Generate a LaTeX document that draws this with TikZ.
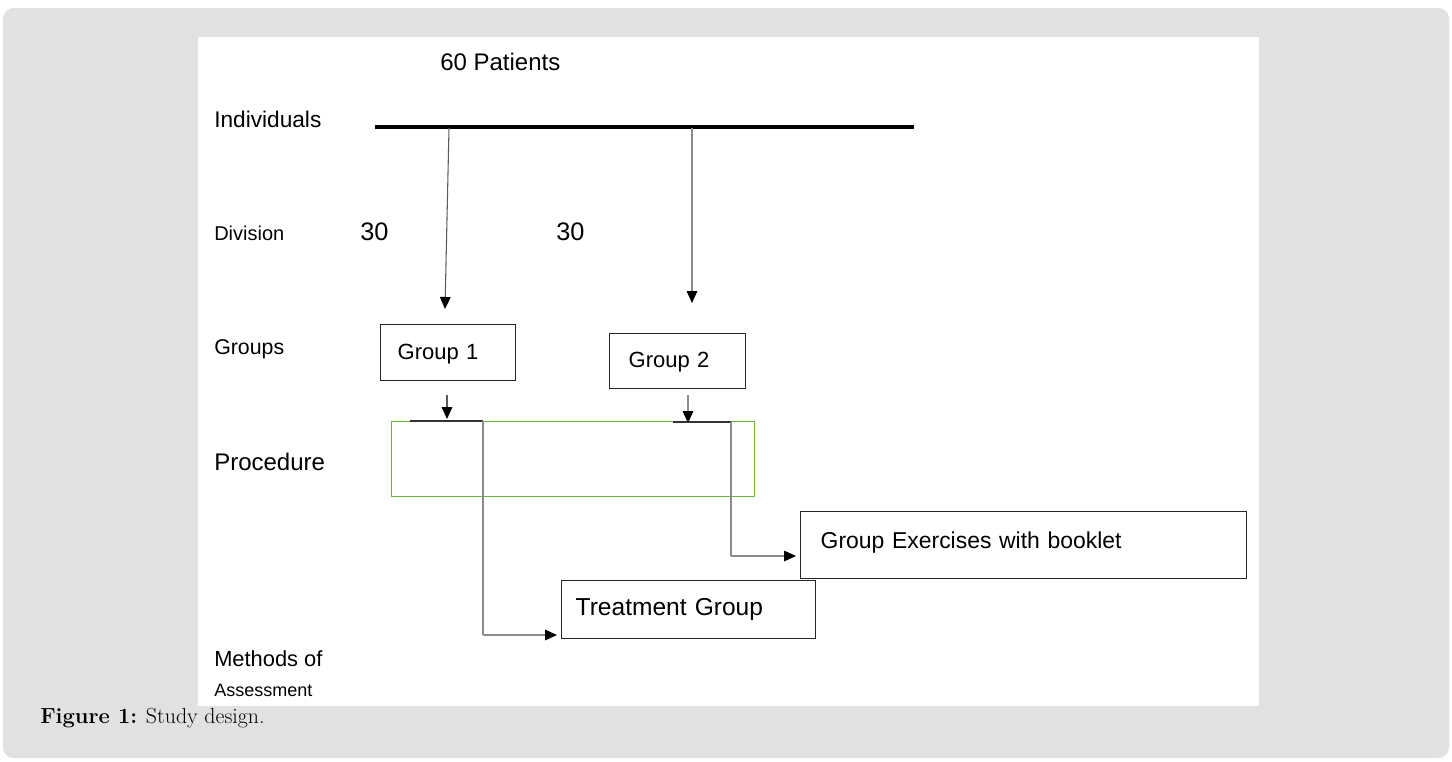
\documentclass[tikz,border=0pt]{standalone}
\usepackage{fontspec}
\newfontfamily\arialf{Liberation Sans}
\usetikzlibrary{arrows.meta}
\definecolor{panelgray}{HTML}{E1E1E1}
\definecolor{procgreen}{HTML}{6DB33F}
\definecolor{lgray}{HTML}{8C8C8C}
\definecolor{dgray}{HTML}{5A5A5A}
\newcommand{\fs}[1]{\fontsize{#1}{#1}\selectfont}
\begin{document}
\begin{tikzpicture}[x=0.75pt,y=-0.75pt,
  lbl/.style={anchor=west,inner sep=0pt,font=\arialf},
  boxnode/.style={draw=black!85,line width=1.1pt,anchor=north west,align=left,font=\arialf,inner ysep=0pt},
  tip/.style={-{Triangle[length=9pt,width=8pt,black]}},
  conn/.style={line width=0.8pt}]
\useasboundingbox (0,0) rectangle (1452,761);
\fill[panelgray,rounded corners=8pt] (3,8) rectangle (1449,758);
\fill[white] (198,37) rectangle (1259,706);

% labels
\node[lbl,font=\arialf\fs{18}] (pat) at (440,62) {60 Patients};
\node[lbl,font=\arialf\fs{17}] (ind) at (214,119) {Individuals};
\node[lbl,font=\arialf\fs{15}] (div) at (214,233) {Division};
\node[lbl,font=\arialf\fs{19}] (n1) at (360,232) {30};
\node[lbl,font=\arialf\fs{19}] (n2) at (556,232) {30};
\node[lbl,font=\arialf\fs{16}] (grp) at (214,349) {Groups};
\node[lbl,font=\arialf\fs{18}] (proclbl) at (214,462) {Procedure};
\node[lbl,font=\arialf\fs{16.4}] (meth) at (214,659) {Methods of};
\node[lbl,font=\arialf\fs{13.5}] (ass) at (214,690) {Assessment};

% thick line
\coordinate (lineL) at (375,127);
\coordinate (lineR) at (914,127);
\draw[line width=2.3pt] (lineL) -- (lineR);

% group boxes
\node[boxnode,font=\arialf\fs{16.5},minimum height=42pt,inner xsep=12.75pt,text width=75.75pt,text height=12pt,text depth=2pt] (g1) at (380,324) {Group 1};
\node[boxnode,font=\arialf\fs{16.5},minimum height=41.25pt,inner xsep=14.25pt,text width=73.5pt,text height=12pt,text depth=2pt] (g2) at (609,333) {Group 2};

% procedure box
\node[draw=procgreen,line width=0.9pt,anchor=north west,minimum width=272.25pt,minimum height=56.25pt,inner sep=0pt] (proc) at (391,421) {};

% method boxes
\node[boxnode,font=\arialf\fs{17.2},minimum height=50.25pt,inner xsep=15pt,text width=304.5pt,text height=13pt,text depth=7.4pt] (gex) at (800,511) {Group Exercises with booklet};
\node[boxnode,font=\arialf\fs{18.4},minimum height=43.5pt,inner xsep=10.5pt,text width=169.5pt] (tg) at (561,580) {Treatment Group};

% arrows from line to groups
\coordinate (s1) at (449,128);
\coordinate (e1) at (445,309);
\coordinate (s2) at (692,128);
\coordinate (e2) at (692,303);
\draw[conn,dgray,tip] (s1) -- (e1);
\draw[conn,lgray,tip] (s2) -- (e2);

% small arrows from groups
\coordinate (a1s) at (447,395);
\coordinate (a1e) at (447,419);
\coordinate (a2s) at (688,395);
\coordinate (a2e) at (688,423);
\draw[conn,dgray,tip] (a1s) -- (a1e);
\draw[conn,lgray,tip] (a2s) -- (a2e);

% connectors from procedure to methods
\coordinate (b1a) at (410,421);
\coordinate (b1b) at (483,421);
\coordinate (b1c) at (483,635);
\coordinate (b2a) at (673,422);
\coordinate (b2b) at (731,422);
\coordinate (b2c) at (731,556);
\draw[line width=1pt,black!80] (b1a) -- (b1b);
\draw[line width=1pt,black!80] (b2a) -- (b2b);
\draw[conn,lgray] (b1b) -- (b1c);
\draw[conn,lgray] (b2b) -- (b2c);
\draw[conn,lgray,tip] (b1c) -- ([xshift=-3pt]b1c -| tg.west);
\draw[conn,lgray,tip] (b2c) -- ([xshift=-3pt]b2c -| gex.west);

% caption
\node[anchor=west,inner sep=0pt,font=\fs{16.4}] (cap) at (40,718) {\textbf{Figure 1:} Study design.};
\end{tikzpicture}
\end{document}
